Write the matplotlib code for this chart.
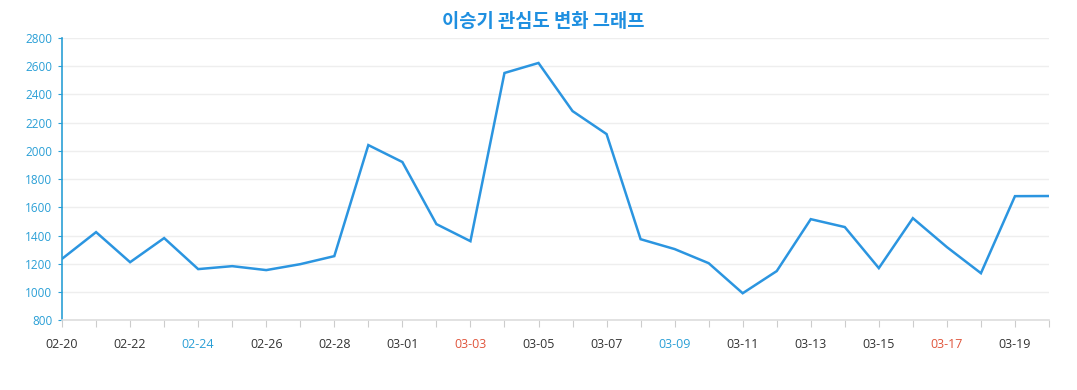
import matplotlib
matplotlib.use('Agg')
import matplotlib.pyplot as plt

plt.rcParams['font.family'] = ['Noto Sans CJK KR', 'DejaVu Sans']

dates = ['02-20', '02-21', '02-22', '02-23', '02-24', '02-25', '02-26', '02-27',
         '02-28', '02-29', '03-01', '03-02', '03-03', '03-04', '03-05', '03-06',
         '03-07', '03-08', '03-09', '03-10', '03-11', '03-12', '03-13', '03-14',
         '03-15', '03-16', '03-17', '03-18', '03-19', '03-20']
values = [1235, 1424, 1211, 1382, 1162, 1183, 1155, 1197, 1254, 2041,
          1921, 1481, 1360, 2552, 2623, 2282, 2119, 1374, 1304, 1204,
          991, 1148, 1516, 1460, 1169, 1523, 1318, 1133, 1679, 1680]
blue_days = ['02-24', '03-09']
red_days = ['03-03', '03-17']

title = '이승기 관심도 변화 그래프'

fig = plt.figure(figsize=(10.77, 3.9), dpi=100)
ax = fig.add_axes([0.0576, 0.179, 0.9164, 0.7236])

x = list(range(len(dates)))
ax.plot(x, values, color='#2b95e0', linewidth=1.8, solid_joinstyle='miter')

ax.set_xlim(0, len(dates) - 1)
ax.set_ylim(800, 2800)
ax.set_yticks(range(800, 2801, 200))
ax.set_xticks(x)
ax.set_xticklabels([d if i % 2 == 0 else '' for i, d in enumerate(dates)])

ax.grid(axis='y', color='#eeeeee', linewidth=1)
ax.set_axisbelow(True)
for s in ['top', 'right']:
    ax.spines[s].set_visible(False)
ax.spines['left'].set_color('#2a9fd6')
ax.spines['left'].set_linewidth(1.2)
ax.spines['bottom'].set_color('#dddddd')
ax.spines['bottom'].set_linewidth(1.2)

ax.tick_params(axis='y', color='#2a9fd6', labelcolor='#2a9fd6', labelsize=8.5, length=3, pad=4)
ax.tick_params(axis='x', color='#cccccc', labelsize=9, length=5, pad=8)

for lab in ax.get_yticklabels():
    lab.set_family(['Open Sans', 'DejaVu Sans'])

for lab, d in zip(ax.get_xticklabels(), dates):
    lab.set_family(['Open Sans', 'DejaVu Sans'])
    if d in blue_days:
        lab.set_color('#2a9fd6')
    elif d in red_days:
        lab.set_color('#e0553c')
    else:
        lab.set_color('#333333')

fig.text(0.504, 0.945, title, ha='center', va='center', fontsize=13.5,
         fontweight='bold', color='#1e8fe0')

fig.savefig('out.png', dpi=100)
